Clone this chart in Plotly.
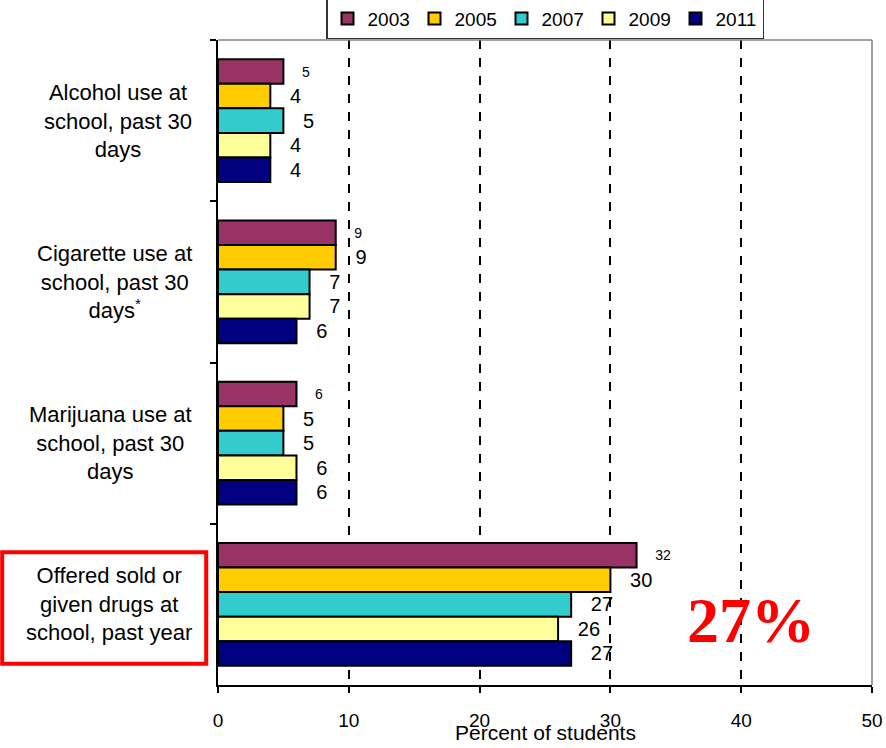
import plotly.graph_objects as go

# behaviours, top to bottom
categories = [
    "Alcohol use at<br>school, past 30<br>days",
    "Cigarette use at<br>school, past 30<br>days<sup>*</sup>",
    "Marijuana use at<br>school, past 30<br>days",
    "Offered sold or<br>given drugs at<br>school, past year",
]
years = ["2003", "2005", "2007", "2009", "2011"]
pct_2003 = [5, 9, 6, 32]
pct_2005 = [4, 9, 5, 30]
pct_2007 = [5, 7, 5, 27]
pct_2009 = [4, 7, 6, 26]
pct_2011 = [4, 6, 6, 27]
series = [pct_2003, pct_2005, pct_2007, pct_2009, pct_2011]
colors = ["#993366", "#FFCC00", "#33CCCC", "#FFFF99", "#000080"]

FONT = "Arial, Liberation Sans, sans-serif"
NB = "\u00a0"

fig = go.Figure()
for i, (yr, vals) in enumerate(zip(years, series)):
    small = i == 0
    fig.add_trace(go.Bar(
        y=categories, x=vals, name=yr, orientation="h",
        marker=dict(color=colors[i], line=dict(color="black", width=2)),
        texttemplate=(NB * 4 if small else NB * 3) + "%{x}",
        textposition="outside", constraintext="none", cliponaxis=False,
        textfont=dict(family=FONT, size=14 if small else 20, color="black"),
    ))

# category labels, centred lines, right edge near the axis
for cat in categories:
    fig.add_annotation(
        x=-0.037, xref="paper", xanchor="right", y=cat, yref="y",
        text=cat, showarrow=False, align="center",
        font=dict(family=FONT, size=22, color="black"),
    )

fig.add_annotation(
    x=0.5, xref="paper", xanchor="center", y=-0.073, yref="paper", yanchor="middle",
    text="Percent of students", showarrow=False,
    font=dict(family=FONT, size=21, color="black"),
)

fig.add_annotation(
    x=0.815, xref="paper", xanchor="center", y=0.10, yref="paper", yanchor="middle",
    text="<b>27%</b>", showarrow=False,
    font=dict(family="Times New Roman, Liberation Serif, serif", size=64, color="red"),
)

# red box around the last label, gray frame top and right
fig.add_shape(type="rect", xref="paper", yref="paper",
              x0=-0.330, x1=-0.018, y0=0.033, y1=0.206,
              line=dict(color="red", width=4))
fig.add_shape(type="line", xref="paper", yref="paper", x0=0, x1=1, y0=1, y1=1,
              line=dict(color="#808080", width=1.5))
fig.add_shape(type="line", xref="paper", yref="paper", x0=1, x1=1, y0=0, y1=1,
              line=dict(color="#808080", width=1.5))

fig.update_layout(
    width=886, height=748,
    margin=dict(l=218, r=14, t=40, b=63, autoexpand=False),
    paper_bgcolor="white", plot_bgcolor="white",
    barmode="group", bargap=0.24, bargroupgap=0,
    font=dict(family=FONT, color="black"),
    legend=dict(orientation="h", x=0.5, xanchor="center", y=1.033, yanchor="middle",
                font=dict(size=19), bordercolor="#333333", borderwidth=1.5,
                bgcolor="white", traceorder="normal",
                entrywidth=42, entrywidthmode="pixels"),
    xaxis=dict(range=[0, 50], dtick=10, showgrid=True, gridcolor="black",
               griddash="dash", gridwidth=2, zeroline=False,
               showline=True, linecolor="black", linewidth=2,
               ticks="outside", ticklen=6, tickcolor="black", tickwidth=2,
               tickfont=dict(size=19), ticklabelstandoff=11,
               automargin=False),
    yaxis=dict(type="category", autorange="reversed", showticklabels=False,
               showline=True, linecolor="black", linewidth=2,
               ticks="outside", tickson="boundaries", ticklen=6,
               tickcolor="black", tickwidth=1.5, showgrid=False, automargin=False),
)

fig.write_html("out.html", config={"displayModeBar": False},
               post_script="document.body.style.margin='0';")
